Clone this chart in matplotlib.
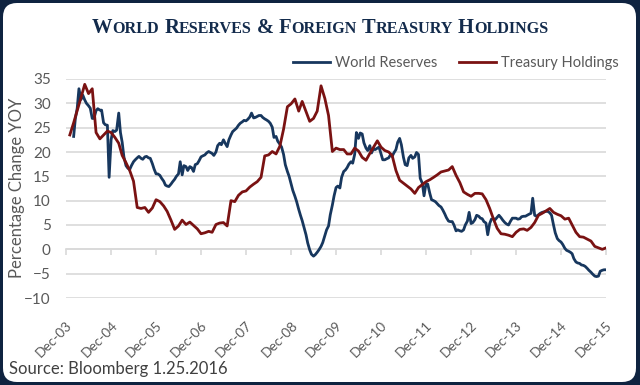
import matplotlib
matplotlib.use('Agg')
import numpy as np
import pandas as pd
import matplotlib.pyplot as plt
from matplotlib.patches import FancyBboxPatch
from matplotlib.transforms import IdentityTransform

# ---------------- data (YoY % change) ----------------
# World reserves: semi-monthly readings, first point Feb-2004
world_reserves = [
    23.2, 26.9, 29.0, 33.0, 30.8, 31.7, 30.7, 30.0, 29.5, 29.0, 26.9, 26.9, 28.5, 28.9, 28.6, 28.6, 26.0, 25.6, 25.5, 14.8, 22.5, 24.4, 24.2, 24.5,
    28.0, 24.0, 22.0, 19.0, 17.2, 16.7, 16.4, 17.2, 18.0, 18.4, 18.8, 19.1, 18.7, 18.5, 19.0, 19.1, 18.8, 18.7, 17.6, 16.5, 15.5, 15.5, 15.2, 14.6,
    14.0, 13.2, 13.0, 12.9, 13.4, 13.9, 14.4, 15.0, 15.5, 18.0, 15.3, 17.2, 17.0, 16.2, 17.0, 16.8, 16.0, 17.4, 17.6, 18.2, 19.0, 19.2, 19.4, 19.8,
    20.1, 19.9, 19.7, 19.3, 20.0, 21.3, 21.8, 21.5, 22.5, 21.8, 21.1, 22.5, 23.5, 24.2, 24.6, 24.9, 25.5, 25.9, 26.2, 26.5, 26.4, 26.7, 27.2, 28.0,
    27.0, 27.1, 27.3, 27.5, 27.5, 27.1, 26.8, 26.6, 26.3, 25.9, 25.1, 23.0, 23.2, 22.2, 21.6, 21.0, 19.5, 17.4, 16.0, 15.0, 13.5, 12.1, 10.9, 9.8,
    8.2, 7.0, 5.9, 4.6, 3.0, 1.3, -0.1, -1.0, -1.4, -1.1, -0.6, -0.1, 0.6, 1.4, 2.8, 4.0, 4.8, 7.1, 9.1, 11.0, 12.7, 13.0, 12.6, 14.8,
    16.0, 16.3, 16.8, 17.5, 18.0, 17.7, 19.5, 24.0, 22.8, 23.9, 23.7, 21.9, 20.8, 20.3, 21.3, 19.8, 20.7, 20.5, 20.8, 21.0, 19.6, 18.4, 18.4, 18.6,
    18.8, 19.4, 19.1, 19.8, 20.5, 22.0, 22.8, 21.5, 18.9, 17.4, 17.2, 18.8, 19.3, 18.7, 19.0, 19.9, 19.5, 14.6, 13.6, 11.0, 13.5, 13.4, 11.5, 10.2,
    10.0, 9.8, 9.4, 9.0, 8.7, 8.1, 7.3, 6.5, 5.8, 5.7, 5.7, 5.0, 3.8, 4.0, 3.8, 3.7, 4.0, 5.0, 5.8, 7.6, 5.3, 5.5, 6.1, 7.0,
    6.8, 6.4, 6.3, 5.7, 5.4, 3.0, 5.3, 6.2, 6.3, 6.1, 6.6, 7.0, 6.5, 6.0, 5.5, 5.2, 5.0, 5.7, 6.4, 6.4, 6.4, 6.2, 6.3, 6.7,
    6.8, 6.8, 7.0, 7.2, 7.4, 10.5, 7.0, 6.8, 7.1, 7.4, 7.6, 7.7, 7.8, 7.8, 7.5, 7.0, 5.0, 3.4, 2.2, 1.8, 1.5, 1.0, 0.2, -0.2,
    -0.4, -0.6, -0.9, -1.9, -2.6, -2.8, -2.9, -3.2, -3.3, -3.5, -3.9, -4.3, -4.7, -5.1, -5.5, -5.6, -5.5, -4.5, -4.3, -4.2, -4.2,
]
reserves_dates = pd.date_range('2004-02-01', periods=len(world_reserves), freq='SMS')

# Foreign treasury holdings: monthly, Jan-2004 .. Dec-2015
treasury_holdings = [
    23.5, 26.0, 28.5, 31.2, 33.9, 32.0, 33.0, 24.0, 22.7, 23.5, 24.3, 24.0,
    23.0, 21.8, 19.3, 17.8, 16.2, 14.0, 8.6, 8.4, 8.6, 7.6, 8.5, 10.2,
    9.8, 8.9, 7.8, 6.0, 4.1, 4.8, 6.0, 5.1, 5.6, 4.9, 4.2, 3.2,
    3.4, 3.7, 3.5, 5.1, 5.4, 5.5, 4.8, 10.0, 9.8, 11.1, 11.8, 12.0,
    12.8, 13.4, 13.9, 14.8, 19.2, 19.4, 20.1, 19.6, 21.2, 24.7, 29.3, 29.9,
    30.9, 28.4, 30.4, 28.3, 26.3, 26.9, 28.4, 33.6, 31.0, 27.5, 20.1, 20.8,
    20.5, 20.5, 19.6, 19.6, 20.8, 20.2, 18.9, 18.3, 19.7, 21.0, 22.3, 21.0,
    20.3, 20.0, 19.3, 16.2, 14.2, 13.6, 13.0, 12.4, 11.5, 12.7, 13.3, 13.9,
    14.3, 14.8, 15.3, 15.9, 16.1, 16.3, 17.0, 15.2, 13.7, 11.8, 11.3, 10.9,
    11.5, 11.5, 11.4, 10.2, 8.4, 6.2, 4.3, 3.2, 3.1, 2.9, 2.6, 3.5,
    4.1, 4.2, 3.9, 4.5, 5.5, 7.0, 7.4, 7.9, 8.4, 7.6, 7.2, 6.9,
    6.2, 6.4, 5.0, 3.5, 2.6, 2.5, 2.1, 1.7, 0.6, 0.3, 0.0, 0.3,
]
treasury_dates = pd.date_range('2004-01-01', periods=len(treasury_holdings), freq='MS')

tick_dates = pd.to_datetime(['%d-12-01' % y for y in range(2003, 2016)])
tick_labels = ['Dec-03', 'Dec-04', 'Dec-05', 'Dec-06', 'Dec-07', 'Dec-08', 'Dec-09',
               'Dec-10', 'Dec-11', 'Dec-12', 'Dec-13', 'Dec-14', 'Dec-15']
y_ticks = [-10, -5, 0, 5, 10, 15, 20, 25, 30, 35]

# ---------------- figure ----------------
W, H = 640, 385
NAVY = '#0f2340'
BLUE = '#17375e'
RED = '#7a1212'
GRAY = '#595959'
GRID = '#d9d9d9'
SANS = 'Lato'

fig = plt.figure(figsize=(W / 100, H / 100), dpi=100, facecolor=NAVY)
card = FancyBboxPatch((3, 3), W - 7, H - 6, boxstyle='round,pad=0,rounding_size=14',
                      transform=IdentityTransform(), facecolor='white',
                      edgecolor='none', zorder=-1)
fig.add_artist(card)

ax = fig.add_axes([66 / W, 1 - 298 / H, 540 / W, 219 / H])
ax.set_facecolor('none')

ax.plot(reserves_dates, world_reserves, color=BLUE, lw=2.0, label='World Reserves',
        solid_joinstyle='round')
ax.plot(treasury_dates, treasury_holdings, color=RED, lw=2.0, label='Treasury Holdings',
        solid_joinstyle='round')

ax.set_xlim(tick_dates[0], tick_dates[-1])
ax.set_ylim(-10, 35)
ax.set_yticks(y_ticks)
ax.grid(axis='y', color=GRID, lw=1.2)
ax.set_axisbelow(True)
for s in ax.spines.values():
    s.set_visible(False)

ax.set_xticks(tick_dates)
ax.set_xticklabels(tick_labels, rotation=45, ha='right', va='top',
                   rotation_mode='anchor', fontsize=9.8, color=GRAY, family=SANS)
ax.tick_params(axis='x', length=0, pad=15)
ax.tick_params(axis='y', length=0, pad=11, labelsize=11, labelcolor=GRAY)
for lbl in ax.get_yticklabels():
    lbl.set_family(SANS)

# axis line at zero with tick marks
zero_ax = ax.secondary_xaxis(10 / 45)
zero_ax.set_xticks(tick_dates)
zero_ax.tick_params(labelbottom=False, length=4, color=GRID, width=1.2, direction='out')
zero_ax.spines['bottom'].set_color(GRID)
zero_ax.spines['bottom'].set_linewidth(1.2)

fig.text(17 / W, 1 - 188 / H, 'Percentage Change YOY', rotation=90, ha='center',
         va='center', fontsize=12, color=GRAY, family=SANS)

fig.legend(loc='center', bbox_to_anchor=(456 / W, 1 - 63 / H), ncol=2, frameon=False,
           handlelength=2.5, handletextpad=0.35, columnspacing=1.5,
           prop={'family': SANS, 'size': 10.5}, labelcolor=GRAY)

fig.text(9 / W, 1 - 369 / H, 'Source: Bloomberg 1.25.2016', ha='left', va='center',
         fontsize=12, color='#404040', family=SANS)

# ---------------- small-caps title ----------------
title_words = ['World', 'Reserves', '&', 'Foreign', 'Treasury', 'Holdings']
big_size, small_size = 14.8, 11.6
renderer = fig.canvas.get_renderer()
pieces = []
for i, word in enumerate(title_words):
    parts = [(word[0], big_size)]
    if len(word) > 1:
        parts.append((word[1:].upper(), small_size))
    for j, (s, size) in enumerate(parts):
        t = fig.text(0, 0, s, fontsize=size, family='Liberation Serif', weight='bold',
                     color='#132b4c', transform=IdentityTransform(), va='baseline')
        gap = 5 if (j == 0 and i > 0) else 0
        pieces.append((t, t.get_window_extent(renderer).width, gap))
total = sum(w + g for _, w, g in pieces)
x = (W - total) / 2
for t, w, g in pieces:
    x += g
    t.set_position((x, H - 33))
    x += w

fig.savefig('out.png', dpi=100, facecolor=NAVY)
